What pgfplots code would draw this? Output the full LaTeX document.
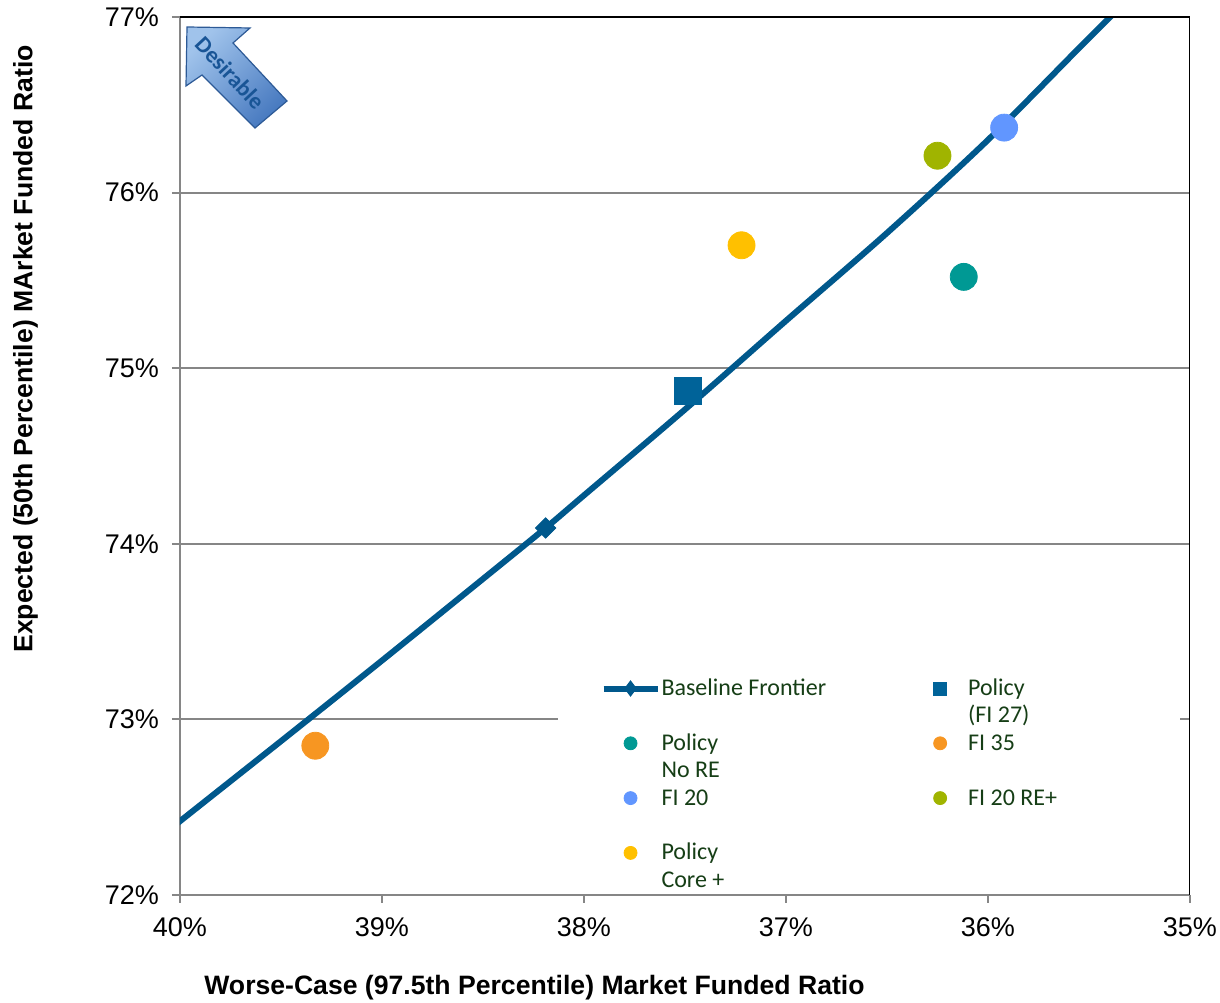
\documentclass[border=0pt]{standalone}
\usepackage{pgfplots}
\pgfplotsset{compat=1.18}
\usepackage{fontspec}
\setmainfont{Liberation Sans}
\newfontfamily\legfont{Carlito}

\definecolor{axgray}{RGB}{134,134,134}
\definecolor{frontier}{RGB}{0,88,140}
\definecolor{policysq}{RGB}{0,99,153}
\definecolor{noreteal}{RGB}{0,153,148}
\definecolor{fiorange}{RGB}{247,150,34}
\definecolor{fiblue}{RGB}{97,150,255}
\definecolor{regreen}{RGB}{160,180,0}
\definecolor{coreyellow}{RGB}{255,192,0}
\definecolor{legtext}{RGB}{22,62,22}
\definecolor{arrowlight}{RGB}{160,195,235}
\definecolor{arrowdark}{RGB}{72,122,192}
\definecolor{arrowedge}{RGB}{45,90,150}
\definecolor{arrowtext}{RGB}{25,85,150}

% two-line legend entry, aligned on its first line
\newcommand\lentry[2]{\begin{tabular}[t]{@{}l@{}}#1\\#2\end{tabular}}

% legend sample of the frontier: line with a diamond in its middle
\pgfplotsset{frontier legend/.style={
  legend image code/.code={
     \path[draw=none, fill=none] (0pt,-1pt) rectangle (27pt,1pt);
     \draw[mark repeat=2, mark phase=2, ##1, mark=diamond*, mark size=3.75pt,
           mark options={fill=frontier, line width=0.5pt}]
       plot coordinates {(0pt,0pt) (13.5pt,0pt) (27pt,0pt)};}}}

\begin{document}
\begin{tikzpicture}
\begin{axis}[
  scale only axis, width=505pt, height=439pt,
  x dir=reverse,
  xmin=35, xmax=40, ymin=72, ymax=77,
  xtick={35,36,37,38,39,40},
  xticklabels={35\%,36\%,37\%,38\%,39\%,40\%},
  ytick={72,73,74,75,76,77},
  yticklabels={72\%,73\%,74\%,75\%,76\%,77\%},
  axis x line*=bottom, axis y line*=left,
  axis line style={draw=axgray, line width=1pt, -},
  tick align=outside, major tick length=4pt,
  tick style={draw=axgray, line width=1pt},
  ymajorgrids, grid style={draw=axgray, line width=1pt},
  tick label style={font=\fontsize{13.5}{16}\selectfont},
  xticklabel style={yshift=-4pt},
  yticklabel style={xshift=-3pt},
  xlabel={Worse-Case (97.5th Percentile) Market Funded Ratio},
  ylabel={Expected (50th Percentile) MArket Funded Ratio},
  label style={font=\bfseries\fontsize{13.3}{16}\selectfont},
  xlabel style={at={(axis description cs:0.351,-0.105)}, anchor=center},
  ylabel style={at={(axis description cs:-0.153,0.622)}, anchor=center},
  legend columns=2,
  legend image code/.code={
     \path[draw=none, fill=none] (0pt,-1pt) rectangle (27pt,1pt);
     \draw[mark repeat=2,mark phase=2,#1]
       plot coordinates {(0pt,0pt) (13.5pt,0pt) (27pt,0pt)};},
  every legend image post/.append style={mark size=3.25pt, yshift=3.5pt},
  legend style={at={(axis description cs:0.416,0.2495)}, anchor=north west,
     draw=none, fill=none, inner sep=0pt,
     font=\legfont\fontsize{12}{13.7}\selectfont, text=legtext,
     cells={anchor=base west},
     nodes={inner xsep=0.5pt, inner ysep=0pt, text depth=},
     /tikz/every even column/.append style={column sep=43pt}},
]
% white panel behind the legend
\fill[white] (axis description cs:0.374,0.003) rectangle (axis description cs:0.990,0.25);

% efficient frontier
\addplot[frontier, line width=3pt, smooth, mark=none, frontier legend]
  coordinates {(40.5,71.96) (40.0,72.42) (39.5,72.876) (39.0,73.335)
               (38.5,73.80) (38.19,74.09) (38.0,74.276) (37.5,74.765)
               (37.0,75.27) (36.5,75.77) (36.0,76.30) (35.5,76.88) (35.0,77.45)};
\addlegendentry{\lentry{Baseline Frontier}{\strut}}
% marked portfolio on the frontier
\addplot[forget plot, only marks, mark=square*, mark size=3.6pt,
  mark options={rotate=45, fill=frontier, draw=frontier}]
  coordinates {(38.19,74.09)};

\addplot[only marks, mark=square*, mark size=6.75pt, policysq,
  mark options={fill=policysq, draw=policysq}]
  coordinates {(37.485,74.87)};
\addlegendentry{\lentry{Policy}{(FI 27)}}

\addplot[only marks, mark=*, mark size=6.75pt, noreteal,
  mark options={fill=noreteal, draw=noreteal}]
  coordinates {(36.12,75.52)};
\addlegendentry{\lentry{Policy}{No RE}}

\addplot[only marks, mark=*, mark size=6.75pt, fiorange,
  mark options={fill=fiorange, draw=fiorange}]
  coordinates {(39.33,72.85)};
\addlegendentry{\lentry{FI 35}{\strut}}

\addplot[only marks, mark=*, mark size=6.75pt, fiblue,
  mark options={fill=fiblue, draw=fiblue}]
  coordinates {(35.92,76.37)};
\addlegendentry{\lentry{FI 20}{\strut}}

\addplot[only marks, mark=*, mark size=6.75pt, regreen,
  mark options={fill=regreen, draw=regreen}]
  coordinates {(36.25,76.21)};
\addlegendentry{\lentry{FI 20 RE+}{\strut}}

\addplot[only marks, mark=*, mark size=6.75pt, coreyellow,
  mark options={fill=coreyellow, draw=coreyellow}]
  coordinates {(37.22,75.70)};
\addlegendentry{\lentry{Policy}{Core +}}

% dark top and right frame
\draw[black, line width=1pt] (axis description cs:0,1) -- (axis description cs:1,1)
  -- (axis description cs:1,0);
\end{axis}

% "Desirable" arrow in the upper left corner
\begin{scope}[shift={(current axis.north west)}, x=0.5pt, y=-0.5pt]
  \shade[draw=arrowedge, line width=0.6pt, top color=arrowlight,
         bottom color=arrowdark, shading angle=45]
    (7,10) -- (70,11) -- (53,26) -- (107,84) -- (75,111) -- (22,58) -- (6,69) -- cycle;
  \node[rotate=-47, text=arrowtext, inner sep=0pt,
        font=\legfont\bfseries\fontsize{11.5}{13}\selectfont]
    at (50,56) {Desirable};
\end{scope}

\pgfresetboundingbox
\path[use as bounding box] ([shift={(-90pt,-54pt)}]current axis.south west)
  rectangle ([shift={(15pt,8.5pt)}]current axis.north east);
\end{tikzpicture}
\end{document}
